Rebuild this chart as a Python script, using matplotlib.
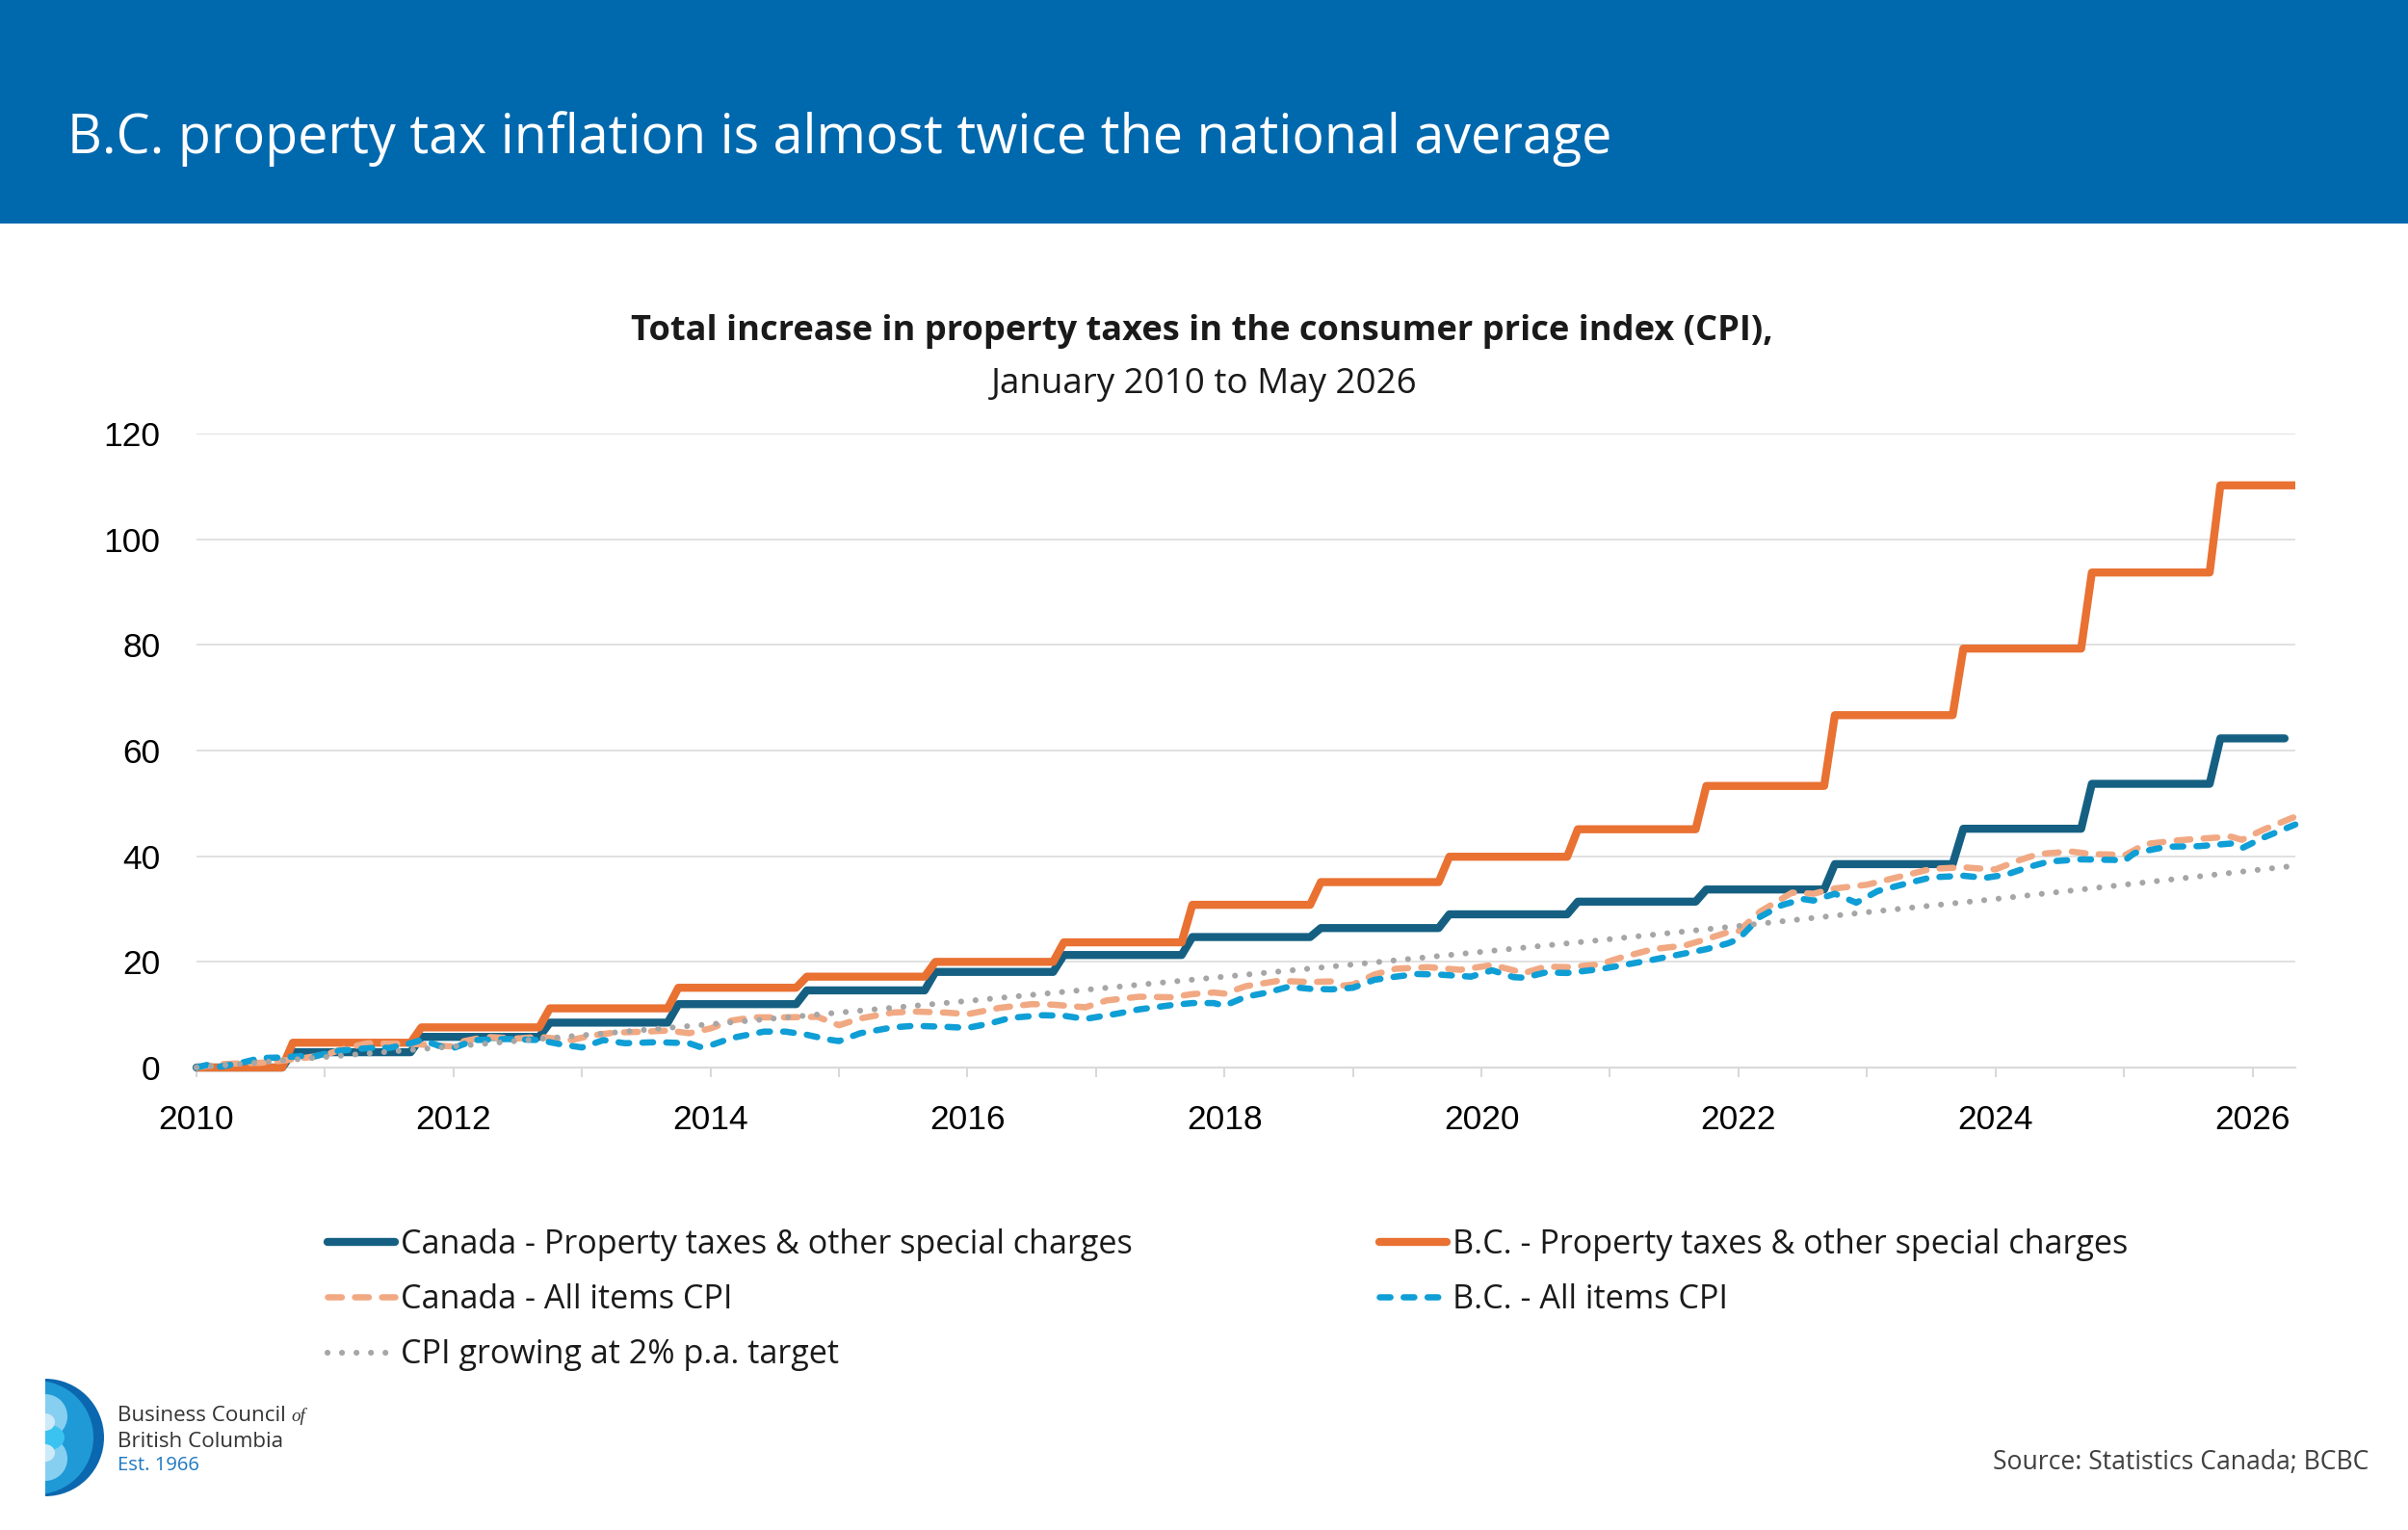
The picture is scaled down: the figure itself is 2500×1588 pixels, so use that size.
import matplotlib
matplotlib.use("Agg")
import matplotlib.pyplot as plt
from matplotlib.lines import Line2D
from matplotlib.patches import Rectangle, Circle, Ellipse

# ------------------------------------------------------------------ data
x_start = "2010-01"
x_end = "2026-05"
canada_pt_end = "2026-04"

# Property tax indexes move once a year, in October
pt_change_years = [2010, 2011, 2012, 2013, 2014, 2015, 2016, 2017,
                   2018, 2019, 2020, 2021, 2022, 2023, 2024, 2025]
canada_pt_levels = [2.9, 5.8, 8.5, 12.0, 14.6, 18.1, 21.3, 24.7,
                    26.4, 29.0, 31.4, 33.7, 38.5, 45.2, 53.7, 62.3]
bc_pt_levels = [4.7, 7.6, 11.2, 15.1, 17.2, 20.0, 23.7, 30.8,
                35.1, 39.9, 45.1, 53.3, 66.7, 79.3, 93.7, 110.2]

canada_cpi_dates = [
    "2010-01", "2010-03", "2010-05", "2010-07", "2010-09", "2010-11",
    "2011-01", "2011-03", "2011-05", "2011-07", "2011-09", "2011-11",
    "2012-01", "2012-02", "2012-04", "2012-07", "2012-09", "2012-12",
    "2013-02", "2013-04", "2013-07", "2013-09", "2013-11",
    "2014-01", "2014-03", "2014-05", "2014-08", "2014-11",
    "2015-01", "2015-03", "2015-06", "2015-08", "2015-11",
    "2016-01", "2016-04", "2016-07", "2016-09", "2016-12",
    "2017-02", "2017-05", "2017-08", "2017-10", "2017-12",
    "2018-01", "2018-03", "2018-06", "2018-09", "2018-11", "2018-12",
    "2019-01", "2019-03", "2019-05", "2019-08", "2019-11",
    "2020-02", "2020-05", "2020-07", "2020-09", "2020-12",
    "2021-02", "2021-05", "2021-08", "2021-10", "2021-12",
    "2022-01", "2022-03", "2022-06", "2022-08", "2022-10",
    "2023-01", "2023-04", "2023-07", "2023-10", "2023-12",
    "2024-01", "2024-03", "2024-05", "2024-08", "2024-10", "2024-12",
    "2025-01", "2025-03", "2025-06", "2025-08", "2025-11", "2025-12",
    "2026-02", "2026-05"]
canada_cpi = [
    0.0, 0.6, 0.8, 0.9, 1.3, 1.8,
    2.4, 3.7, 4.6, 4.5, 4.5, 4.2,
    4.0, 5.0, 5.8, 5.5, 5.8, 5.2,
    6.1, 6.6, 6.8, 7.0, 6.5,
    7.4, 8.9, 9.5, 9.5, 9.6,
    8.0, 9.3, 10.4, 10.6, 10.4,
    10.1, 11.3, 12.0, 11.9, 11.4,
    12.7, 13.4, 13.3, 13.9, 14.2,
    14.0, 15.4, 16.4, 16.2, 16.3, 15.5,
    15.7, 17.6, 18.7, 19.0, 18.5,
    19.4, 17.9, 19.1, 19.0, 19.5,
    20.8, 22.4, 23.1, 24.3, 25.6,
    25.8, 29.5, 33.1, 32.9, 33.9,
    34.6, 36.1, 37.6, 37.9, 37.6,
    37.5, 39.1, 40.4, 40.9, 40.4, 40.3,
    40.1, 42.3, 43.0, 43.3, 43.7, 43.1,
    45.0, 47.5]

bc_cpi_dates = [
    "2010-01", "2010-02", "2010-03", "2010-05", "2010-07", "2010-09", "2010-11", "2010-12",
    "2011-02", "2011-04", "2011-06", "2011-07", "2011-09", "2011-10", "2011-12",
    "2012-01", "2012-03", "2012-06", "2012-09", "2012-11",
    "2013-01", "2013-03", "2013-05", "2013-08", "2013-11", "2013-12",
    "2014-01", "2014-03", "2014-06", "2014-08", "2014-10", "2014-12",
    "2015-01", "2015-03", "2015-06", "2015-08", "2015-11",
    "2016-01", "2016-03", "2016-05", "2016-08", "2016-10", "2016-12",
    "2017-03", "2017-05", "2017-08", "2017-10", "2017-12",
    "2018-01", "2018-03", "2018-05", "2018-07", "2018-09", "2018-11",
    "2019-01", "2019-03", "2019-05", "2019-07", "2019-09", "2019-12",
    "2020-02", "2020-04", "2020-05", "2020-07", "2020-09", "2020-12",
    "2021-02", "2021-05", "2021-08", "2021-10", "2021-12",
    "2022-01", "2022-03", "2022-05", "2022-07", "2022-08", "2022-10", "2022-12",
    "2023-02", "2023-05", "2023-07", "2023-10", "2023-12",
    "2024-02", "2024-04", "2024-06", "2024-09", "2024-12",
    "2025-01", "2025-02", "2025-05", "2025-08", "2025-11", "2025-12",
    "2026-02", "2026-05"]
bc_cpi = [
    0.0, 0.5, 0.1, 0.8, 1.8, 1.9, 2.2, 2.1,
    3.1, 3.5, 3.8, 3.7, 4.6, 5.2, 3.9,
    3.7, 5.2, 5.4, 5.2, 4.4,
    3.8, 5.2, 4.6, 4.8, 4.6, 3.9,
    4.2, 5.6, 6.8, 6.8, 6.2, 5.3,
    5.0, 6.5, 7.6, 7.9, 7.7,
    7.5, 8.3, 9.4, 9.9, 9.8, 9.2,
    10.2, 11.0, 11.8, 12.2, 12.2,
    11.7, 13.4, 14.2, 15.3, 14.9, 14.8,
    15.1, 16.6, 17.2, 17.7, 17.6, 17.2,
    18.4, 17.1, 17.0, 18.0, 17.9, 18.6,
    19.3, 20.4, 21.6, 22.4, 23.5,
    24.3, 28.5, 30.7, 31.9, 31.6, 32.9, 31.2,
    33.4, 35.0, 36.0, 36.3, 35.9,
    36.5, 37.9, 39.0, 39.4, 39.3,
    39.1, 40.6, 41.8, 41.9, 42.4, 41.5,
    43.5, 46.0]

target_dates = ["2010-01", "2011-01", "2012-01", "2013-01", "2014-01", "2015-01",
                "2016-01", "2017-01", "2018-01", "2019-01", "2020-01", "2021-01",
                "2022-01", "2023-01", "2024-01", "2025-01", "2026-01", "2026-05"]
target_cpi = [0.0, 2.0, 4.0, 6.1, 8.2, 10.4, 12.6, 14.9, 17.2, 19.5, 21.9, 24.3,
              26.8, 29.4, 31.9, 34.6, 37.3, 38.2]

x_major_ticks = [2010, 2012, 2014, 2016, 2018, 2020, 2022, 2024, 2026]
x_minor_ticks = [2011, 2013, 2015, 2017, 2019, 2021, 2023, 2025]
y_ticks = [0, 20, 40, 60, 80, 100, 120]

labels = {
    "can_pt": "Canada - Property taxes & other special charges",
    "bc_pt": "B.C. - Property taxes & other special charges",
    "can_cpi": "Canada - All items CPI",
    "bc_cpi": "B.C. - All items CPI",
    "target": "CPI growing at 2% p.a. target",
}
title = "B.C. property tax inflation is almost twice the national average"
subtitle1 = "Total increase in property taxes in the consumer price index (CPI),"
subtitle2 = "January 2010 to May 2026"
source = "Source: Statistics Canada; BCBC"


def to_year(s):
    y, m = s.split("-")
    return int(y) + (int(m) - 1) / 12


def step_series(levels, end):
    xs, ys, prev = [to_year(x_start)], [0.0], 0.0
    for yr, lv in zip(pt_change_years, levels):
        xs += [yr + 8 / 12, yr + 9 / 12]
        ys += [prev, lv]
        prev = lv
    xs.append(to_year(end))
    ys.append(prev)
    return xs, ys


# ------------------------------------------------------------------ style
C_CAN_PT = "#156082"
C_BC_PT = "#E97132"
C_CAN_CPI = "#F1A983"
C_BC_CPI = "#0F9ED5"
C_TARGET = "#A6A6A6"
C_GRID = "#D9D9D9"
C_BAND = "#0068AD"

FONT = ["Open Sans", "DejaVu Sans"]
TICKFONT = ["Liberation Sans", "DejaVu Sans"]

W, H = 2500, 1588
fig = plt.figure(figsize=(W / 100, H / 100), dpi=100)
fig.patch.set_facecolor("white")
renderer = fig.canvas.get_renderer()


def fit(txt, target_w):
    w = txt.get_window_extent(renderer).width
    txt.set_fontsize(txt.get_fontsize() * target_w / w)


# overlay axes in pixel coordinates (y downward)
ov = fig.add_axes([0, 0, 1, 1], zorder=0)
ov.set_xlim(0, W)
ov.set_ylim(H, 0)
ov.axis("off")

ov.add_patch(Rectangle((0, 0), W, 232, color=C_BAND, lw=0))
t = ov.text(70, 159, title, color="white", fontsize=40, family=FONT, va="baseline")
fit(t, 1598)

s1 = ov.text(1248, 353, subtitle1, color="#1a1a1a", fontsize=24, family=FONT,
             weight="bold", ha="center", va="baseline")
fit(s1, 1187)
s2 = ov.text(1250, 408, subtitle2, color="#1a1a1a", fontsize=24, family=FONT,
             ha="center", va="baseline")
fit(s2, 444)

src = ov.text(2459, 1525, source, color="#404040", fontsize=18, family=FONT,
              ha="right", va="baseline")
fit(src, 390)

# logo
clip = Rectangle((47, 1420), 100, 150, transform=ov.transData, visible=False)
ov.add_patch(clip)
logo_parts = [
    Circle((47, 1492), 61, color="#0B67AF", lw=0),
    Circle((38, 1492), 59, color="#1F9AD6", lw=0),
    Circle((47, 1470), 23, color="#86CFF1", lw=0),
    Circle((47, 1514), 23, color="#86CFF1", lw=0),
    Ellipse((47, 1492), 40, 28, color="#3AC3F0", lw=0),
    Ellipse((47, 1476), 20, 18, color="#CDEAF8", lw=0),
    Ellipse((47, 1508), 20, 18, color="#CDEAF8", lw=0),
]
for p in logo_parts:
    ov.add_patch(p)
    p.set_clip_path(clip)
l1 = ov.text(122, 1475, "Business Council", color="#333333", fontsize=14,
             family=FONT, va="baseline")
fit(l1, 175)
fs_logo = l1.get_fontsize()
ov.text(302, 1475, "of", color="#333333", fontsize=fs_logo * 0.85,
        family=["Liberation Serif", "DejaVu Serif"], style="italic", va="baseline")
ov.text(122, 1502, "British Columbia", color="#333333", fontsize=fs_logo,
        family=FONT, va="baseline")
ov.text(122, 1526, "Est. 1966", color="#1F78C1", fontsize=fs_logo * 0.9,
        family=FONT, va="baseline")

# ------------------------------------------------------------------ chart
x0, x1 = 204, 2383
y0, y1 = 1108, 450
ax = fig.add_axes([x0 / W, 1 - y0 / H, (x1 - x0) / W, (y0 - y1) / H], zorder=2)
ax.patch.set_alpha(0)
ax.set_xlim(2010, to_year(x_end))
ax.set_ylim(0, 120)

lw_solid, lw_dash, lw_dot = 6.0, 4.7, 4.4
ls_can_cpi = (0, (2.2, 2.1))
ls_bc_cpi = (0, (1.7, 2.1))
ls_target = (0, (0.01, 2.45))

xs, ys = step_series(canada_pt_levels, canada_pt_end)
ax.plot(xs, ys, color=C_CAN_PT, lw=lw_solid, solid_capstyle="round",
        solid_joinstyle="round", clip_on=False, zorder=3)
xs, ys = step_series(bc_pt_levels, x_end)
ax.plot(xs, ys, color=C_BC_PT, lw=lw_solid, solid_capstyle="butt",
        solid_joinstyle="round", clip_on=False, zorder=3.1)
ax.plot([to_year(d) for d in canada_cpi_dates], canada_cpi, color=C_CAN_CPI,
        lw=lw_dash, linestyle=ls_can_cpi, dash_capstyle="round",
        dash_joinstyle="round", clip_on=False, zorder=3.2)
ax.plot([to_year(d) for d in bc_cpi_dates], bc_cpi, color=C_BC_CPI,
        lw=lw_dash, linestyle=ls_bc_cpi, dash_capstyle="round",
        dash_joinstyle="round", clip_on=False, zorder=3.3)
ax.plot([to_year(d) for d in target_dates], target_cpi, color=C_TARGET,
        lw=lw_dot, linestyle=ls_target, dash_capstyle="round",
        clip_on=False, zorder=3.4)

for side in ["top", "right", "left"]:
    ax.spines[side].set_visible(False)
ax.spines["bottom"].set_color(C_GRID)
ax.spines["bottom"].set_linewidth(1.5)
ax.set_xticks(x_major_ticks)
ax.set_xticks(x_minor_ticks, minor=True)
ax.set_xticklabels([str(v) for v in x_major_ticks])
ax.set_yticks(y_ticks)
ax.set_yticklabels([str(v) for v in y_ticks])
ax.tick_params(axis="x", which="both", direction="out", length=7, width=1.5,
               color=C_GRID, pad=20, labelsize=25.5, labelcolor="#000000")
ax.tick_params(axis="y", length=0, pad=27, labelsize=25.5, labelcolor="#000000")
for lab in ax.get_xticklabels() + ax.get_yticklabels():
    lab.set_family(TICKFONT)
ax.yaxis.grid(True, color=C_GRID, lw=1.1)
ax.set_axisbelow(True)

# ------------------------------------------------------------------ legend
tmp = ov.text(0, 0, labels["can_pt"], fontsize=23, family=FONT)
fit(tmp, 764)
leg_fs = tmp.get_fontsize()
tmp.remove()

h = [
    Line2D([], [], color=C_CAN_PT, lw=lw_solid, solid_capstyle="round"),
    Line2D([], [], color=C_CAN_CPI, lw=lw_dash, linestyle=ls_can_cpi,
           dash_capstyle="round"),
    Line2D([], [], color=C_TARGET, lw=lw_dot, linestyle=ls_target,
           dash_capstyle="round"),
    Line2D([], [], color=C_BC_PT, lw=lw_solid, solid_capstyle="round"),
    Line2D([], [], color=C_BC_CPI, lw=lw_dash, linestyle=ls_bc_cpi,
           dash_capstyle="round"),
]
lab = [labels["can_pt"], labels["can_cpi"], labels["target"],
       labels["bc_pt"], labels["bc_cpi"]]
leg_px = leg_fs * 100 / 72
fig.legend(h, lab, loc="upper left", bbox_to_anchor=(340 / W, 1 - 1275 / H),
           ncol=2, frameon=False, prop={"family": FONT, "size": leg_fs},
           handlelength=70 / leg_px, handletextpad=6 / leg_px,
           columnspacing=256 / leg_px, labelspacing=0.68, borderpad=0,
           borderaxespad=0, labelcolor="#1a1a1a")

fig.savefig("out.png", dpi=100)
